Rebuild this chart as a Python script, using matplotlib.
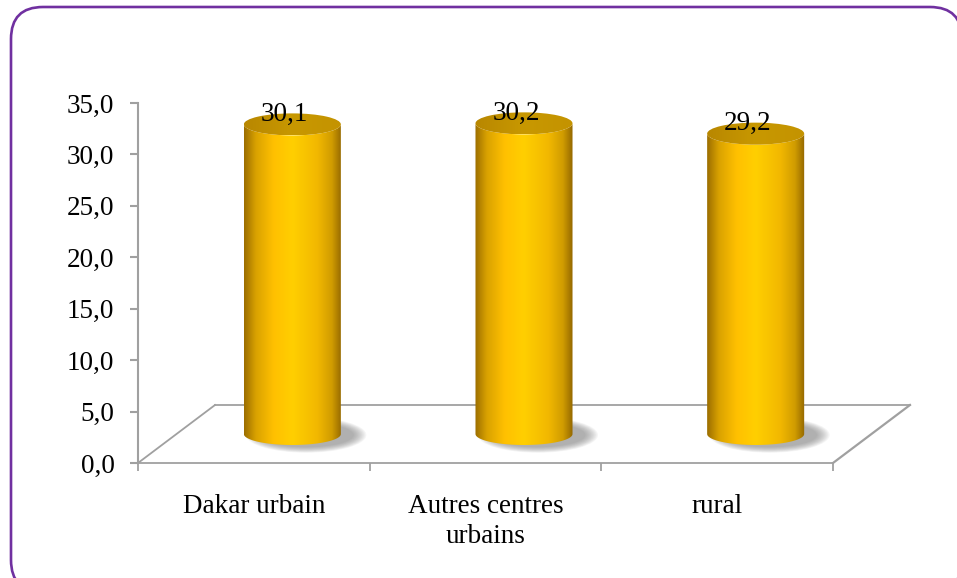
import numpy as np
import matplotlib
matplotlib.use("Agg")
import matplotlib.pyplot as plt
from matplotlib.patches import Ellipse, PathPatch, FancyBboxPatch
from matplotlib.path import Path
from matplotlib.colors import to_rgb

# data
categories = ["Dakar urbain", "Autres centres\nurbains", "rural"]
values = [30.1, 30.2, 29.2]
yticks = [0, 5, 10, 15, 20, 25, 30, 35]

plt.rcParams['font.family'] = ['Liberation Serif', 'DejaVu Serif']
plt.rcParams['font.size'] = 19.5

fig = plt.figure(figsize=(9.57, 5.78), dpi=100)

# rounded purple frame around the whole chart
bg = fig.add_axes([0, 0, 1, 1])
bg.set_xlim(0, 957)
bg.set_ylim(578, 0)
bg.axis('off')
bg.add_patch(FancyBboxPatch((11, 7), 951, 585, boxstyle="round,pad=0,rounding_size=32",
                            fc='white', ec='#7030A0', lw=1.9, clip_on=False))

ax = fig.add_axes([138 / 957, 1 - 463 / 578, 772 / 957, 360 / 578])
ax.patch.set_alpha(0)

# pseudo 3d depth of the floor (data units)
dx, dy = 0.3325, 5.64
w, h = 0.2094, 1.07
gray = '#A0A0A0'

# floor
x0, x1 = -0.5, len(categories) - 0.5
ax.plot([x0, x1], [0, 0], color=gray, lw=1.3, zorder=1, clip_on=False)
ax.plot([x0, x0 + dx], [0, dy], color=gray, lw=1.3, zorder=1, clip_on=False)
ax.plot([x1, x1 + dx], [0, dy], color=gray, lw=1.6, zorder=1, clip_on=False)
ax.plot([x0 + dx, x1 + dx], [dy, dy], color=gray, lw=1.3, zorder=1, clip_on=False)

# horizontal gradient for the cylinders
stops = [(0.0, '#9C6E00'), (0.12, '#D9A200'), (0.3, '#FFC000'), (0.5, '#FFCF00'),
         (0.75, '#F2B800'), (0.9, '#D09C00'), (1.0, '#946800')]
xs = np.linspace(0, 1, 200)
pos = [s[0] for s in stops]
cols = np.array([to_rgb(s[1]) for s in stops])
grad = np.stack([np.interp(xs, pos, cols[:, k]) for k in range(3)], axis=-1)[None, :, :]

top_stops = [(0.0, '#B88700'), (0.5, '#C89800'), (1.0, '#C49300')]
tpos = [s[0] for s in top_stops]
tcols = np.array([to_rgb(s[1]) for s in top_stops])
tgrad = np.stack([np.interp(xs, tpos, tcols[:, k]) for k in range(3)], axis=-1)[None, :, :]

base = dy / 2
for i, v in enumerate(values):
    cx = i + dx / 2
    top = base + v

    # soft shadow on the floor, pushed to the right
    for k in range(12):
        ax.add_patch(Ellipse((cx + 0.06, base - 0.1), 2 * w + 0.1 - k * 0.01,
                             2 * h + 1.3 - k * 0.1, fc='#808080', ec='none',
                             alpha=0.07, zorder=2))

    # cylinder body
    t_bot = np.linspace(np.pi, 2 * np.pi, 60)
    t_top = np.linspace(2 * np.pi, np.pi, 60)
    verts = [(cx - w, top), (cx - w, base)]
    verts += list(zip(cx + w * np.cos(t_bot), base + h * np.sin(t_bot)))
    verts += [(cx + w, top)]
    verts += list(zip(cx + w * np.cos(t_top), top + h * np.sin(t_top)))
    verts += [(cx - w, top)]
    codes = [Path.MOVETO] + [Path.LINETO] * (len(verts) - 2) + [Path.CLOSEPOLY]
    body = PathPatch(Path(verts, codes), fc='none', ec='none', zorder=3)
    ax.add_patch(body)
    im = ax.imshow(grad, extent=[cx - w, cx + w, base - h, top + h], aspect='auto',
                   zorder=3, interpolation='bilinear')
    im.set_clip_path(body)

    # cylinder top
    cap = Ellipse((cx, top), 2 * w, 2 * h, fc='none', ec='none', zorder=4)
    ax.add_patch(cap)
    im2 = ax.imshow(tgrad, extent=[cx - w, cx + w, top - h, top + h], aspect='auto',
                    zorder=4, interpolation='bilinear')
    im2.set_clip_path(cap)

    ax.text(cx - 0.035, top + 0.95, f"{v:.1f}".replace('.', ','), ha='center',
            va='center', fontsize=19.5, zorder=5)

ax.set_xlim(x0, x1 + dx)
ax.set_ylim(0, 35)

for s in ['top', 'right', 'bottom']:
    ax.spines[s].set_visible(False)
ax.spines['left'].set_color(gray)
ax.spines['left'].set_linewidth(1.5)

ax.set_yticks(yticks)
ax.set_yticklabels([f"{t:.1f}".replace('.', ',') for t in yticks])
ax.tick_params(axis='y', direction='out', length=6, width=1.5, color=gray, pad=11)

ax.set_xticks([-0.5, 0.5, 1.5, 2.5])
ax.set_xticklabels([])
ax.tick_params(axis='x', which='major', direction='out', length=6, width=1.3, color=gray)
ax.set_xticks(range(len(categories)), minor=True)
ax.set_xticklabels(categories, minor=True, linespacing=1.3)
ax.tick_params(axis='x', which='minor', length=0, pad=22)

fig.savefig('out.png', dpi=100)
